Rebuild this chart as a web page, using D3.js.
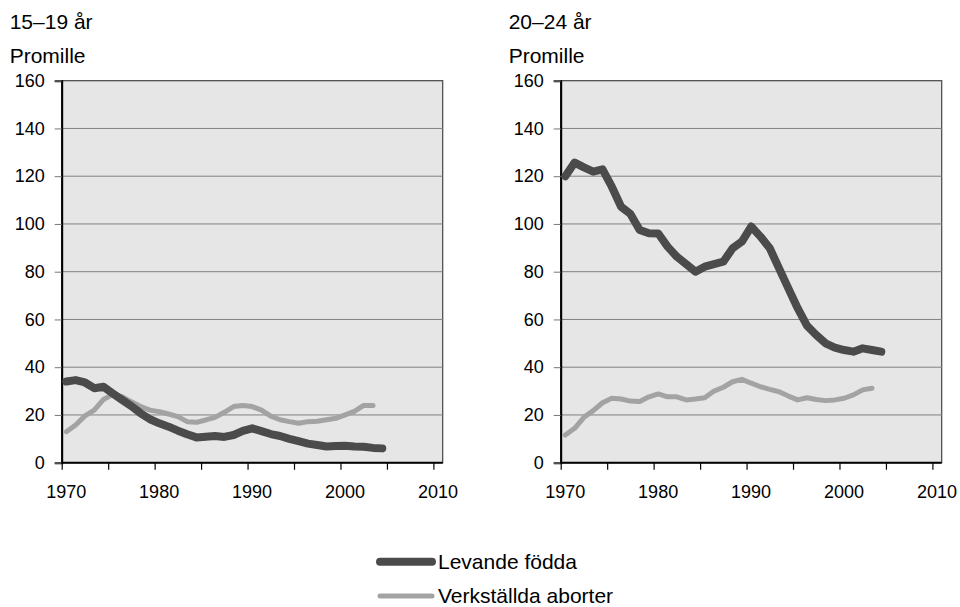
<!DOCTYPE html>
<html>
<head>
<meta charset="utf-8">
<script src="https://cdn.jsdelivr.net/npm/d3@7"></script>
<style>
  body { margin: 0; background: #fff; }
  text { font-family: "Liberation Sans", Arial, sans-serif; fill: #000; }
</style>
</head>
<body>
<svg id="chart" width="960" height="607"></svg>
<script>
// years on the x axis
const years = [1970, 1971, 1972, 1973, 1974, 1975, 1976, 1977, 1978, 1979,
               1980, 1981, 1982, 1983, 1984, 1985, 1986, 1987, 1988, 1989,
               1990, 1991, 1992, 1993, 1994, 1995, 1996, 1997, 1998, 1999,
               2000, 2001, 2002, 2003, 2004];
const xTicks = [1970, 1975, 1980, 1985, 1990, 1995, 2000, 2005, 2010];
const xLabels = [1970, 1980, 1990, 2000, 2010];
const yTicks = [0, 20, 40, 60, 80, 100, 120, 140, 160];

// promille, 15-19 years
const birthsTeen = [34, 34.6, 33.6, 31.2, 31.8, 29, 26.3, 23.7, 20.7, 18.2,
                    16.5, 15.1, 13.4, 11.9, 10.6, 10.9, 11.2, 10.8, 11.6, 13.3,
                    14.4, 13.2, 12, 11.2, 10, 9, 8, 7.4, 6.8, 7,
                    7.1, 6.8, 6.7, 6.2, 6.0];
const abortTeen = [13, 15.8, 19.6, 22, 26.5, 28.6, 27.7, 25.5, 23.5, 22,
                   21.4, 20.4, 19.3, 17.2, 16.9, 17.9, 19, 21.1, 23.5, 24,
                   23.5, 22, 19.5, 18, 17.2, 16.5, 17.2, 17.4, 18, 18.6,
                   20, 21.5, 24, 24];

// promille, 20-24 years
const birthsYoung = [120, 125.7, 123.7, 121.9, 122.9, 115.6, 107.2, 104.2, 97.5, 96.1,
                     96, 90.5, 86.3, 83.2, 80, 82.1, 83.2, 84.2, 89.8, 92.6,
                     98.9, 94.7, 89.8, 81.4, 73, 64.7, 57.4, 53.5, 50, 48.2,
                     47.2, 46.5, 47.9, 47.2, 46.5];
const abortYoung = [11.6, 14.4, 19, 21.8, 25.1, 27, 26.7, 25.8, 25.6, 27.6,
                    28.8, 27.6, 27.6, 26.3, 26.7, 27.2, 30, 31.6, 33.9, 34.9,
                    33.3, 31.8, 30.7, 29.7, 27.9, 26.3, 27.2, 26.5, 26, 26.3,
                    27, 28.4, 30.5, 31.2];

const legendNames = ["Levande födda", "Verkställda aborter"];
const birthColor = "#4b4b4b";
const abortColor = "#a3a3a3";

const svg = d3.select("#chart");

function panel(left, title, births, aborts) {
  const x = d3.scaleLinear().domain([1970, 2011]).range([left, left + 381]);
  const y = d3.scaleLinear().domain([0, 160]).range([462.7, 80.7]);
  const g = svg.append("g");

  g.append("text").attr("x", left - 52).attr("y", 29)
    .style("font-size", "21px").text(title);
  g.append("text").attr("x", left - 52).attr("y", 63)
    .style("font-size", "21px").text("Promille");

  g.append("rect")
    .attr("x", x(1970)).attr("y", y(160))
    .attr("width", x(2011) - x(1970)).attr("height", y(0) - y(160))
    .attr("fill", "#e6e6e6").attr("stroke", "#444").attr("stroke-width", 1.2);

  // gridlines
  g.selectAll(".grid").data(yTicks.filter(d => d > 0 && d < 160)).join("line")
    .attr("x1", x(1970)).attr("x2", x(2011))
    .attr("y1", d => y(d)).attr("y2", d => y(d))
    .attr("stroke", "#808080").attr("stroke-width", 1);

  // y axis
  const yAxis = g.append("g").attr("transform", `translate(${x(1970)},0)`)
    .call(d3.axisLeft(y).tickValues(yTicks).tickSize(7).tickPadding(10));
  yAxis.select(".domain").attr("stroke", "#000").attr("stroke-width", 2);
  yAxis.selectAll(".tick line").attr("stroke", "#777");
  yAxis.selectAll("text").style("font-size", "18px")
    .attr("font-family", null).attr("fill", "#000");

  // x axis
  const xAxis = g.append("g").attr("transform", `translate(0,${y(0)})`)
    .call(d3.axisBottom(x).tickValues(xTicks).tickSize(7)
      .tickFormat(d => xLabels.includes(d) ? d : ""));
  xAxis.select(".domain").attr("stroke", "#000").attr("stroke-width", 2)
    .attr("d", `M${x(1970)},0H${x(2011)}`);
  xAxis.selectAll(".tick line").attr("stroke", "#000").attr("stroke-width", 1.2);
  xAxis.selectAll("text").style("font-size", "18px")
    .attr("font-family", null).attr("fill", "#000")
    .attr("dx", 4).attr("y", 23);

  const line = d3.line().x((d, i) => x(years[i] + 0.5)).y(d => y(d));

  g.append("path").datum(aborts).attr("d", line)
    .attr("fill", "none").attr("stroke", abortColor).attr("stroke-width", 5)
    .attr("stroke-linejoin", "round").attr("stroke-linecap", "round");
  g.append("path").datum(births).attr("d", line)
    .attr("fill", "none").attr("stroke", birthColor).attr("stroke-width", 8)
    .attr("stroke-linejoin", "round").attr("stroke-linecap", "round");
}

panel(61.7, "15–19 år", birthsTeen, abortTeen);
panel(560.7, "20–24 år", birthsYoung, abortYoung);

// legend
const legend = svg.append("g");
const legendRows = [
  { name: legendNames[0], color: birthColor, width: 8, y: 561.7 },
  { name: legendNames[1], color: abortColor, width: 5, y: 596 }
];
legend.selectAll("line").data(legendRows).join("line")
  .attr("x1", 380).attr("x2", 432)
  .attr("y1", d => d.y).attr("y2", d => d.y)
  .attr("stroke", d => d.color).attr("stroke-width", d => d.width)
  .attr("stroke-linecap", "round");
legend.selectAll("text").data(legendRows).join("text")
  .attr("x", 438).attr("y", d => d.y + 7)
  .style("font-size", "21px").text(d => d.name);
</script>
</body>
</html>
